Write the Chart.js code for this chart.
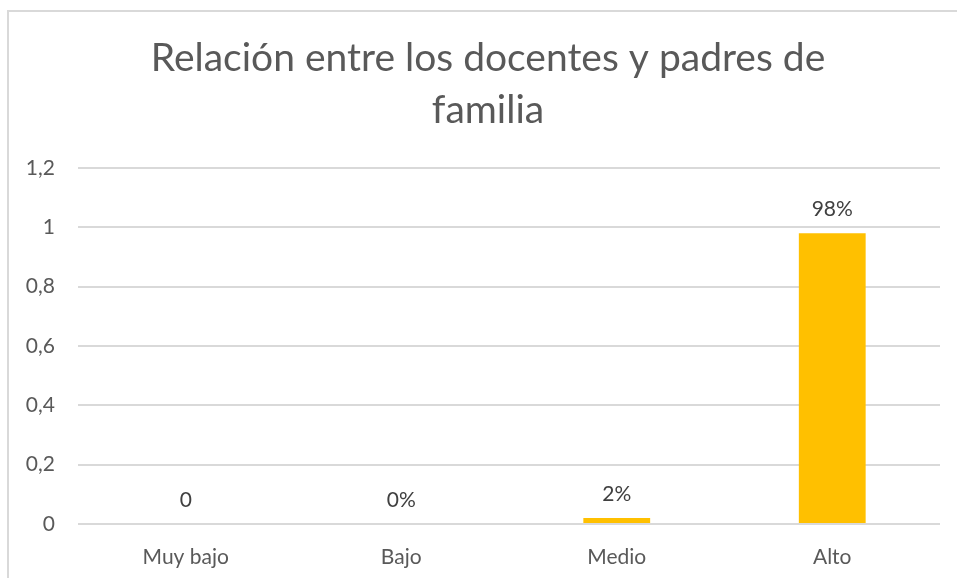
<!DOCTYPE html>
<html>
<head>
<meta charset="utf-8">
<script src="https://cdn.jsdelivr.net/npm/chart.js@4"></script>
<style>
  html, body { margin: 0; padding: 0; background: #fff; }
  #wrap { position: relative; width: 957px; height: 578px; overflow: hidden; }
  #frame { position: absolute; left: 7px; top: 10px; width: 980px; height: 600px;
           border: 2px solid #d9d9d9; box-sizing: border-box; }
  canvas { position: absolute; left: 0; top: 0; }
</style>
</head>
<body>
<div id="wrap">
  <div id="frame"></div>
  <canvas id="chart" width="957" height="578"></canvas>
</div>
<script>
// data
const categories = ['Muy bajo', 'Bajo', 'Medio', 'Alto'];
const values     = [0, 0, 0.02, 0.98];
const valueText  = ['0', '0%', '2%', '98%'];
const titleLines = ['Relación entre los docentes y padres de', 'familia'];

const FONT = 'Lato, "Open Sans", sans-serif';
const GRAY = '#595959';

// labels above each bar
const barLabels = {
  id: 'barLabels',
  afterLayout(chart) {
    // centre the title over the frame rather than the plot
    if (chart.titleBlock) chart.titleBlock.left += 36;
  },
  afterDatasetsDraw(chart) {
    const ctx = chart.ctx;
    const meta = chart.getDatasetMeta(0);
    ctx.save();
    ctx.font = '21px ' + FONT;
    ctx.fillStyle = '#404040';
    ctx.textAlign = 'center';
    ctx.textBaseline = 'middle';
    meta.data.forEach((bar, i) => {
      ctx.fillText(valueText[i], bar.x, bar.y - 24);
    });
    ctx.restore();
  }
};

new Chart(document.getElementById('chart'), {
  type: 'bar',
  data: {
    labels: categories,
    datasets: [{
      data: values,
      backgroundColor: '#FFC000',
      barPercentage: 0.31,
      categoryPercentage: 1
    }]
  },
  options: {
    responsive: false,
    animation: false,
    layout: { padding: { left: 0, right: 17, top: 0, bottom: 0 } },
    plugins: {
      legend: { display: false },
      tooltip: { enabled: false },
      title: {
        display: true,
        text: titleLines,
        color: GRAY,
        font: { family: FONT, size: 39, weight: 'normal', lineHeight: 1.34 },
        padding: { top: 32, bottom: 31.5 }
      }
    },
    scales: {
      x: {
        grid: { display: false },
        border: { display: false },
        ticks: { color: GRAY, font: { family: FONT, size: 21 }, padding: 13 },
        afterFit(scale) { scale.height = 54; }
      },
      y: {
        min: 0,
        max: 1.2,
        grid: { color: '#d9d9d9', lineWidth: 2, drawTicks: false },
        border: { display: false },
        ticks: {
          stepSize: 0.2,
          color: GRAY,
          padding: 23,
          font: { family: FONT, size: 21 },
          callback: v => String(Math.round(v * 10) / 10).replace('.', ',')
        },
        afterFit(scale) { scale.width = 78; }
      }
    }
  },
  plugins: [barLabels]
});
</script>
</body>
</html>
